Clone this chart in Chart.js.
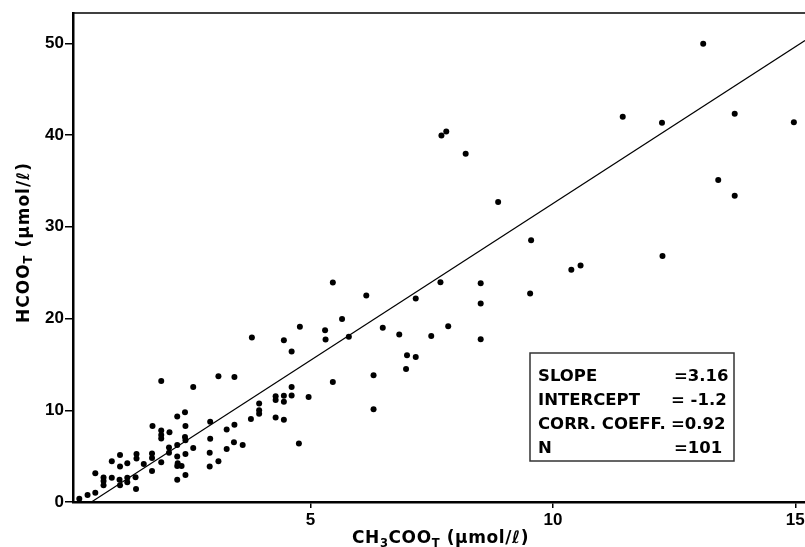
<!DOCTYPE html>
<html>
<head>
<meta charset="utf-8">
<script src="https://cdn.jsdelivr.net/npm/chart.js@4"></script>
<style>
  html, body { margin: 0; padding: 0; background: #fff; }
  #wrap { width: 805px; height: 547px; }
</style>
</head>
<body>
<div id="wrap"><canvas id="myChart" width="805" height="547"></canvas></div>
<script>
'use strict';
// acetate (x) vs formate (y), umol/l
const acetate = [
  0.23, 0.40, 0.56, 0.56, 0.73, 0.73, 0.73, 0.90, 0.90, 1.07,
  1.07, 1.06, 1.07, 1.22, 1.22, 1.22, 1.39, 1.40, 1.41, 1.41,
  1.56, 1.73, 1.73, 1.73, 1.74, 1.92, 1.92, 1.92, 1.92, 1.92,
  2.09, 2.08, 2.08, 2.25, 2.25, 2.25, 2.26, 2.25, 2.25, 2.34,
  2.41, 2.42, 2.41, 2.42, 2.42, 2.42, 2.58, 2.58, 2.93, 2.93,
  2.92, 2.92, 3.10, 3.10, 3.27, 3.27, 3.43, 3.43, 3.42, 3.60,
  3.79, 3.77, 3.94, 3.94, 3.94, 4.28, 4.28, 4.28, 4.45, 4.45,
  4.45, 4.45, 4.61, 4.61, 4.61, 4.78, 4.76, 4.96, 5.30, 5.31,
  5.46, 5.46, 5.65, 5.79, 6.15, 6.30, 6.30, 6.49, 6.83, 6.97,
  6.99, 7.17, 7.17, 7.49, 7.68, 7.70, 7.80, 7.84, 8.20, 8.51,
  8.51, 8.51, 8.87, 9.53, 9.55, 10.38, 10.57, 11.44, 12.25, 12.26,
  13.10, 13.41, 13.75, 13.75, 14.97
];
const formate = [
  0.35, 0.76, 1.02, 3.13, 2.68, 2.28, 1.82, 2.64, 4.45, 5.13,
  3.86, 2.43, 1.82, 4.22, 2.64, 2.15, 2.69, 1.41, 5.24, 4.74,
  4.14, 5.28, 4.79, 3.38, 8.29, 13.19, 7.79, 7.30, 6.93, 4.33,
  7.60, 5.94, 5.38, 9.31, 6.21, 4.95, 4.22, 3.93, 2.43, 3.93,
  9.78, 8.29, 7.09, 6.72, 5.22, 2.95, 12.54, 5.89, 8.75, 6.90,
  5.37, 3.88, 13.71, 4.45, 7.89, 5.78, 13.63, 8.41, 6.51, 6.22,
  17.93, 9.05, 10.74, 9.99, 9.62, 11.52, 11.11, 9.22, 17.64, 11.57,
  10.94, 8.96, 16.41, 12.53, 11.60, 19.09, 6.38, 11.45, 18.73, 17.71,
  23.93, 13.09, 19.96, 18.00, 22.51, 13.82, 10.11, 18.99, 18.25, 14.50,
  16.00, 22.19, 15.81, 18.10, 23.96, 39.96, 40.39, 19.16, 37.96, 23.85,
  21.63, 17.75, 32.69, 22.73, 28.54, 25.31, 25.79, 41.99, 41.34, 26.80,
  49.96, 35.09, 42.32, 33.37, 41.38
];
// fitted line as drawn (end points)
const fitX = [0.48, 15.2];
const fitY = [0.0, 50.3];

const xTicks = [5, 10, 15];
const yTicks = [0, 10, 20, 30, 40, 50];

const statLabels = ['SLOPE', 'INTERCEPT', 'CORR. COEFF.', 'N'];
const statValues = ['=3.16', '= -1.2', '=0.92', '=101'];

const points = acetate.map((x, i) => ({ x: x, y: formate[i] }));
const fitLine = fitX.map((x, i) => ({ x: x, y: fitY[i] }));

const tickFont = { family: 'Liberation Sans', size: 17, weight: 'bold' };

// text with subscripts (canvas has no sub/sup of its own)
function drawSubText(ctx, parts, x, y, size) {
  let cx = x;
  parts.forEach(p => {
    const s = p.sub ? size * 0.68 : size;
    ctx.font = 'bold ' + s + 'px "DejaVu Sans"';
    ctx.fillText(p.t, cx, p.sub ? y + size * 0.22 : y);
    cx += ctx.measureText(p.t).width;
  });
  return cx - x;
}

const extras = {
  id: 'extras',
  afterDraw(chart) {
    const ctx = chart.ctx;
    const a = chart.chartArea;
    ctx.save();
    // top frame
    ctx.strokeStyle = '#000';
    ctx.lineWidth = 1.6;
    ctx.beginPath();
    ctx.moveTo(a.left - 1, a.top);
    ctx.lineTo(a.right, a.top);
    ctx.stroke();

    ctx.fillStyle = '#000';
    ctx.textBaseline = 'alphabetic';
    ctx.textAlign = 'left';
    // x title
    ctx.letterSpacing = '0.6px';
    const xParts = [{ t: 'CH' }, { t: '3', sub: true }, { t: 'COO' }, { t: 'T', sub: true }, { t: ' (\u03bcmol/\u2113)' }];
    drawSubText(ctx, xParts, 352, 543, 17);
    // y title
    ctx.letterSpacing = '1px';
    const yParts = [{ t: 'HCOO' }, { t: 'T', sub: true }, { t: ' (\u03bcmol/\u2113)' }];
    ctx.save();
    ctx.translate(28.5, 323);
    ctx.rotate(-Math.PI / 2);
    drawSubText(ctx, yParts, 0, 0, 17);
    ctx.restore();
    ctx.letterSpacing = '0px';

    // stats box
    ctx.strokeStyle = '#333';
    ctx.lineWidth = 1.5;
    ctx.strokeRect(530, 353, 204, 108);
    ctx.font = 'bold 16.5px "DejaVu Sans"';
    statLabels.forEach((s, i) => {
      const y = 381 + i * 24;
      ctx.fillText(s, 538, y);
      ctx.fillText(statValues[i], i === 0 || i === 3 ? 674 : 671, y);
    });
    ctx.restore();
  }
};

const ctx = document.getElementById('myChart').getContext('2d');
const myChart = new Chart(ctx, {
  type: 'scatter',
  data: {
    datasets: [
      {
        label: 'samples',
        data: points,
        backgroundColor: '#000',
        borderColor: '#000',
        pointRadius: 3,
        pointBorderWidth: 0,
      },
      {
        label: 'fit',
        data: fitLine,
        showLine: true,
        borderColor: '#000',
        borderWidth: 1.2,
        pointRadius: 0,
        fill: false,
      },
    ],
  },
  options: {
    responsive: false,
    animation: false,
    clip: false,
    layout: { autoPadding: false, padding: { top: 13, right: 0, left: 0, bottom: 0 } },
    plugins: {
      legend: { display: false },
      tooltip: { enabled: false },
    },
    scales: {
      x: {
        type: 'linear',
        min: 0.1,
        max: 15.2,
        afterFit(scale) {
          scale.height = 45;
          scale.paddingLeft = 0;
          scale.paddingRight = 0;
        },
        afterBuildTicks(scale) { scale.ticks = xTicks.map(v => ({ value: v })); },
        ticks: { font: tickFont, color: '#000', padding: 2, includeBounds: false },
        grid: { drawOnChartArea: false, drawTicks: true, tickLength: 6, color: '#000', lineWidth: 1.5 },
        border: { display: true, color: '#000', width: 2.5 },
      },
      y: {
        min: 0,
        max: 53.3,
        afterFit(scale) {
          scale.width = 73;
          scale.paddingTop = 0;
          scale.paddingBottom = 0;
        },
        afterBuildTicks(scale) { scale.ticks = yTicks.map(v => ({ value: v })); },
        ticks: { font: tickFont, color: '#000', padding: 1, includeBounds: false },
        grid: { drawOnChartArea: false, drawTicks: true, tickLength: 8, color: '#000', lineWidth: 1.5 },
        border: { display: true, color: '#000', width: 2.5 },
      },
    },
  },
  plugins: [extras],
});
</script>
</body>
</html>
